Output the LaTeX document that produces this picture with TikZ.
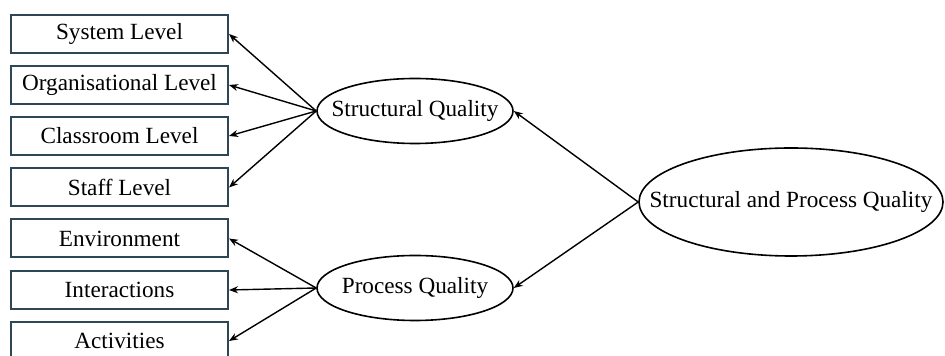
\documentclass[tikz,border=0pt]{standalone}
\usepackage{fontspec}
\setmainfont{Liberation Serif}
\usetikzlibrary{shapes.geometric,arrows.meta}
\definecolor{boxc}{HTML}{2E4756}
\begin{document}
\begin{tikzpicture}[x=0.5pt,y=-0.5pt,
  every node/.style={font=\fontsize{11.6}{14}\selectfont},
  levelbox/.style={draw=boxc,line width=1pt,minimum width=108.5pt,minimum height=19pt,inner sep=0pt},
  factor/.style={draw=black,line width=0.8pt,ellipse,inner sep=0pt,minimum width=98pt,minimum height=32.5pt},
  link/.style={line width=0.7pt,-{Stealth[length=4.5pt,width=3.5pt]}}]
\useasboundingbox (0,0) rectangle (945,356);
% indicator boxes
\node[levelbox] (sys) at (119.5,34) {System Level};
\node[levelbox] (org) at (119.5,85) {Organisational Level};
\node[levelbox] (cls) at (119.5,136) {Classroom Level};
\node[levelbox] (stf) at (119.5,187.5) {Staff Level};
\node[levelbox] (env) at (119.5,238.5) {Environment};
\node[levelbox] (int) at (119.5,290) {Interactions};
\node[levelbox] (act) at (119.5,341) {Activities};
% latent factors
\node[factor,label=center:{Structural Quality}] (sq) at (415,111) {};
\node[factor,label=center:{Process Quality}] (pq) at (415,288) {};
\node[factor,minimum width=152pt,minimum height=54pt,label=center:{Structural and Process Quality}] (spq) at (791,202) {};
% loadings
\foreach \t in {sys,org,cls,stf} \draw[link] (sq.west) -- (\t.east);
\foreach \t in {env,int,act} \draw[link] (pq.west) -- (\t.east);
\draw[link] (spq.west) -- (sq.east);
\draw[link] (spq.west) -- (pq.east);
\end{tikzpicture}
\end{document}
